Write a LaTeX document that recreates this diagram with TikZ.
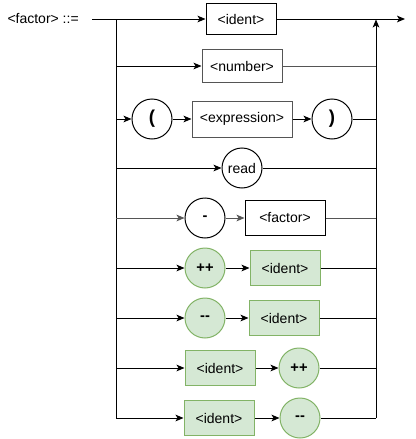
\documentclass[tikz,border=0pt]{standalone}
\usepackage{fontspec}
\setmainfont{Liberation Sans}
\usetikzlibrary{arrows.meta}
\definecolor{leaffill}{HTML}{D5E8D4}
\definecolor{leafdraw}{HTML}{82B366}
\definecolor{dimline}{HTML}{555555}

\begin{document}
\begin{tikzpicture}[
    x=0.75pt,y=-0.75pt,
    line width=0.75pt,
    nonterm/.style={draw=black,fill=white,line width=0.75pt,minimum width=52.5pt,minimum height=24pt,inner sep=0pt,font=\fontsize{10.5}{12}\selectfont},
    token/.style={circle,draw=black,fill=white,line width=0.75pt,minimum size=30pt,inner sep=0pt,font=\fontsize{11}{12}\selectfont\bfseries},
    newbox/.style={nonterm,draw=leafdraw,fill=leaffill,minimum height=26.5pt},
    newtok/.style={token,draw=leafdraw,fill=leaffill},
    arrow/.style={-{Stealth[length=6pt,width=5pt,inset=1.5pt]}},
    plain/.style={-}
]
\useasboundingbox (0,0) rectangle (415,439);

% Rule name and the two rails
\node[anchor=west,inner sep=0pt,font=\fontsize{10.5}{12}\selectfont] (rule) at (7,19) {<factor> ::=};
\coordinate (start) at (92,19);
\coordinate (split) at (116,19);
\coordinate (join) at (376,19.5);
\coordinate (exit) at (405,19);
\foreach \y [count=\i from 2] in {66,119,168,218,268,318,368,418} {
  \coordinate (l\i) at (116,\y);
  \coordinate (r\i) at (376,\y);
}
\draw[plain] (split) -- (l9);
\draw[arrow] (r9) -- (join);

% Branch 1: identifier
\node[nonterm,minimum height=23.25pt] (ident) at (241,19) {<ident>};
\draw[arrow] (start) -- (ident);
\draw[arrow] (ident) -- (exit);

% Branch 2: number
\node[nonterm,draw=dimline,minimum width=60pt,minimum height=25pt] (number) at (242,66) {<number>};
\draw[arrow] (l2) -- (number);
\draw[plain,dimline] (number) -- (r2);

% Branch 3: parenthesised expression
\node[token,font=\fontsize{14}{14}\selectfont\bfseries] (lpar) at (152,119) {(};
\node[nonterm,draw=dimline,minimum width=75pt,minimum height=27pt] (expr) at (242,119) {<expression>};
\node[token,font=\fontsize{14}{14}\selectfont\bfseries] (rpar) at (332,119) {)};
\draw[arrow] (l3) -- (lpar);
\draw[arrow] (lpar) -- (expr);
\draw[arrow] (expr) -- (rpar);
\draw[plain] (rpar) -- (r3);

% Branch 4: read
\node[token,font=\fontsize{10.5}{12}\selectfont] (read) at (242,168) {read};
\draw[arrow] (l4) -- (read);
\draw[plain] (read) -- (r4);

% Branch 5: negation
\node[token] (neg) at (205,218) {-};
\node[nonterm,minimum width=60pt,minimum height=26pt] (fac) at (285,218) {<factor>};
\draw[arrow,dimline] (l5) -- (neg);
\draw[arrow,dimline] (neg) -- (fac);
\draw[plain,dimline] (fac) -- (r5);

% Branches 6-9: increment and decrement
\node[newtok] (preinc) at (205,268) {++};
\node[newbox] (incid) at (285,268) {<ident>};
\draw[arrow] (l6) -- (preinc);
\draw[arrow] (preinc) -- (incid);
\draw[plain] (incid) -- (r6);

\node[newtok] (predec) at (205,318) {-{}-};
\node[newbox] (decid) at (284,318) {<ident>};
\draw[arrow] (l7) -- (predec);
\draw[arrow] (predec) -- (decid);
\draw[plain] (decid) -- (r7);

\node[newbox] (postincid) at (220,368) {<ident>};
\node[newtok] (postinc) at (299,368) {++};
\draw[arrow] (l8) -- (postincid);
\draw[arrow] (postincid) -- (postinc);
\draw[plain] (postinc) -- (r8);

\node[newbox] (postdecid) at (219,418) {<ident>};
\node[newtok] (postdec) at (300,418) {-{}-};
\draw[arrow] (l9) -- (postdecid);
\draw[arrow] (postdecid) -- (postdec);
\draw[plain] (postdec) -- (r9);
\end{tikzpicture}
\end{document}
